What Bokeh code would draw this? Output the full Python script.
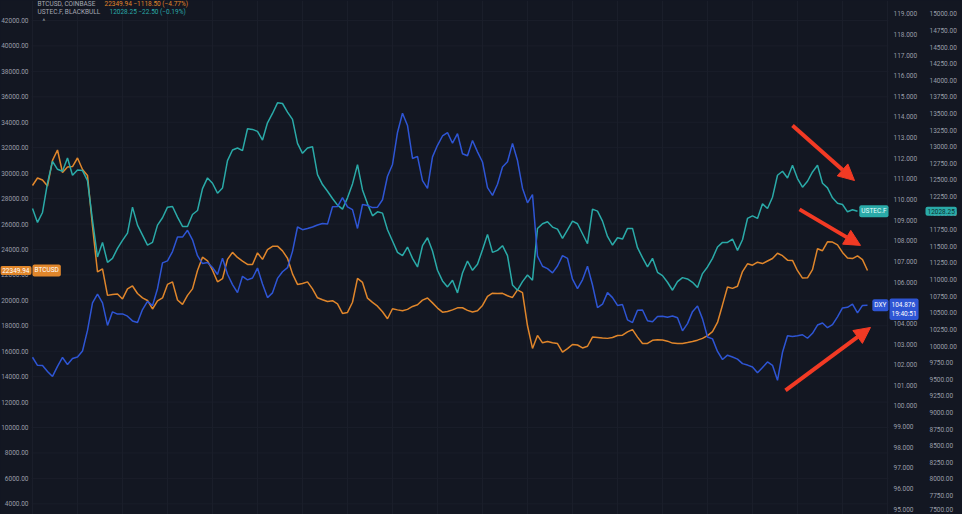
from bokeh.plotting import figure
from bokeh.models import Range1d, Label, Arrow, NormalHead
from bokeh.core.properties import value
from bokeh.embed import file_html
from bokeh.resources import INLINE

# ---------------- data (daily closes) ----------------
btc = [29030, 29620, 29460, 28990, 31000, 31820, 30050, 30490, 30520, 31190,
       30290, 29820, 25810, 22230, 22470, 20390, 20460, 20500, 20110, 20900,
       21130, 20540, 20190, 19990, 19320, 19950, 20190, 21250, 21450, 20030,
       19680, 20390, 20900, 22350, 23390, 23110, 22370, 21460, 21700, 23220,
       23770, 23370, 23080, 22820, 22820, 23730, 23220, 23980, 24250, 24260,
       23890, 23310, 22080, 21250, 21330, 21450, 20900, 20200, 20050, 19910,
       19970, 19720, 18970, 19050, 19850, 21720, 21410, 20170, 19840, 19540,
       19100, 18550, 19340, 19250, 19180, 19290, 19520, 19650, 20020, 20180,
       19800, 19390, 19070, 19120, 19250, 19410, 19420, 19210, 19080, 19180,
       19600, 20320, 20560, 20540, 20550, 20360, 20230, 20820, 20610, 18000,
       16220, 17240, 16660, 16770, 16660, 16600, 15930, 16210, 16530, 16490,
       16260, 16390, 17110, 17070, 17030, 17010, 17080, 17240, 17260, 17520,
       17700, 17110, 16610, 16610, 16860, 16900, 16880, 16790, 16640, 16600,
       16610, 16680, 16760, 16870, 17010, 17230, 17540, 18260, 19640, 21050,
       20940, 21110, 22260, 22870, 22760, 23000, 22890, 23090, 23290, 23700,
       23510, 23160, 23140, 22330, 21750, 21770, 22410, 24060, 23900, 24600,
       24580, 24360, 23770, 23320, 23280, 23500, 23200, 22349.94]

ustec = [12070, 11860, 12010, 12450, 12780, 12660, 12630, 12830, 12570, 12650,
         12640, 12490, 11890, 11340, 11560, 11260, 11320, 11470, 11590, 11700,
         12090, 11820, 11670, 11520, 11560, 11820, 11930, 12090, 12100, 11940,
         11800, 11800, 11980, 12040, 12370, 12530, 12450, 12300, 12380, 12790,
         12950, 12980, 12940, 13270, 13260, 13230, 13100, 13360, 13500, 13660,
         13650, 13520, 13410, 13050, 12900, 12980, 13000, 12580, 12430, 12330,
         12220, 12120, 12060, 12230, 12440, 12730, 12350, 12140, 11960, 12020,
         12000, 11750, 11580, 11410, 11360, 11490, 11320, 11190, 11510, 11630,
         11430, 11140, 10980, 10890, 10990, 10800, 11100, 11280, 11140, 11230,
         11450, 11680, 11410, 11440, 11510, 11360, 10920, 10840, 10970, 11070,
         10990, 11770, 11840, 11870, 11790, 11760, 11620, 11750, 11880, 11840,
         11690, 11540, 12060, 12030, 11880, 11650, 11520, 11630, 11610, 11770,
         11770, 11480, 11330, 11190, 11320, 11110, 11060, 10960, 10840, 10970,
         11030, 11010, 10960, 10880, 11090, 11190, 11320, 11490, 11560, 11560,
         11610, 11440, 11600, 11920, 11960, 11920, 12140, 12070, 12240, 12570,
         12630, 12530, 12720, 12520, 12390, 12480, 12620, 12720, 12450, 12380,
         12230, 12150, 12130, 12020, 12050, 12028.25]

dxy = [102.36, 101.97, 101.96, 101.67, 101.43, 101.92, 102.35, 102.01, 102.30, 102.37,
       102.66, 103.66, 104.99, 105.42, 104.99, 103.90, 104.56, 104.45, 104.46, 104.35,
       104.12, 104.04, 104.67, 105.07, 104.86, 105.68, 106.93, 107.03, 107.48, 108.18,
       108.18, 108.51, 108.05, 107.28, 106.90, 106.95, 106.71, 106.37, 107.16, 106.38,
       105.88, 105.49, 106.28, 106.11, 106.20, 106.68, 105.91, 105.25, 105.48, 106.18,
       106.50, 106.70, 107.49, 108.67, 108.54, 108.60, 108.67, 108.77, 108.84, 108.81,
       109.65, 109.66, 110.09, 109.65, 109.51, 108.60, 109.76, 109.71, 109.61, 109.63,
       109.99, 111.13, 111.70, 113.25, 114.18, 113.59, 111.99, 112.09, 110.92, 110.54,
       112.07, 112.63, 113.08, 113.24, 112.73, 113.19, 112.22, 112.12, 112.86, 112.31,
       111.82, 110.58, 110.20, 110.74, 111.58, 111.83, 112.72, 111.89, 110.55, 109.84,
       110.24, 107.26, 106.77, 106.65, 106.45, 106.78, 107.28, 107.15, 106.14, 105.68,
       106.11, 106.77, 105.86, 104.76, 104.93, 105.49, 105.25, 104.87, 104.91, 104.17,
       104.04, 104.64, 104.65, 104.13, 104.08, 104.33, 104.35, 104.30, 104.36, 104.27,
       103.64, 103.99, 104.57, 104.84, 104.22, 103.34, 103.25, 102.64, 102.25, 102.46,
       102.37, 102.27, 102.05, 101.98, 101.89, 101.61, 101.86, 102.13, 101.97, 101.24,
       102.60, 103.40, 103.37, 103.40, 103.45, 103.28, 103.52, 103.92, 104.02, 103.79,
       103.94, 104.32, 104.75, 104.78, 104.93, 104.51, 104.87, 104.876]

btc_ticks = list(range(4000, 42001, 2000))
dxy_ticks = list(range(95, 120))
ustec_ticks = list(range(7500, 15001, 250))
day_grid = list(range(0, 172, 9))

btc_last, btc_chg, btc_pct = 22349.94, -1118.50, -4.77
ustec_last, ustec_chg, ustec_pct = 12028.25, -22.50, -0.19
dxy_last, dxy_time = 104.876, "19:40:51"

# red annotation arrows: (day_start, btc_start, day_end, btc_end)
arrow_segments = [(152.0, 33750, 164.4, 29420),
                  (153.4, 27150, 165.6, 24320),
                  (150.6, 12920, 167.6, 17870)]

# ---------------- layout (day index units for x) ----------------
X_LO, X_HI = -6.4, 186.0          # whole canvas
PLOT_L, PLOT_R = -0.2, 171.2      # chart pane between the price scales
BTC_LBL_X = -0.8                  # left scale (right-aligned)
DXY_LBL_X = 172.2                 # first right scale (left-aligned)
UST_LBL_X = 179.4                 # second right scale (left-aligned)
Y_LO, Y_HI = 3164, 43572

BG = "#131722"
ORANGE = "#e0862b"
TEAL = "#2aaaa8"
BLUE = "#2e55d4"
RED = "#f23a24"
TXT = "#9a9ea9"
GRID = "#1a1e2a"
FONT = "Roboto"
FS = "6.5px"

p = figure(width=962, height=514, output_backend="svg", toolbar_location=None,
           x_axis_location=None, y_axis_location=None,
           x_range=Range1d(X_LO, X_HI), y_range=Range1d(Y_LO, Y_HI),
           background_fill_color=BG, border_fill_color=BG, outline_line_color=None,
           min_border=0)
p.extra_y_ranges = {"dxy": Range1d(94.741, 119.644), "ustec": Range1d(7465, 15200)}
p.xgrid.visible = False
p.ygrid.visible = False

# grid
p.segment(x0=[PLOT_L] * len(btc_ticks), x1=[PLOT_R] * len(btc_ticks),
          y0=btc_ticks, y1=btc_ticks, line_color=GRID, line_width=1)
p.segment(x0=day_grid, x1=day_grid, y0=[Y_LO] * len(day_grid),
          y1=[Y_HI] * len(day_grid), line_color=GRID, line_width=1)


# price scales
def scale_text(ticks, x, fmt, align, rng, baseline="middle"):
    p.text(x=[x] * len(ticks), y=ticks, text=[fmt.format(t) for t in ticks],
           text_color=TXT, text_font=value(FONT), text_font_size=value(FS),
           text_align=align, text_baseline=baseline, y_range_name=rng)


scale_text(btc_ticks, BTC_LBL_X, "{:.2f}", "right", "default")
scale_text(dxy_ticks, DXY_LBL_X, "{:.3f}", "left", "dxy")
scale_text(ustec_ticks[1:], UST_LBL_X, "{:.2f}", "left", "ustec")
scale_text(ustec_ticks[:1], UST_LBL_X, "{:.2f}", "left", "ustec", "bottom")

# series
p.line(list(range(len(btc))), btc, line_color=ORANGE, line_width=1.5)
p.line(list(range(len(ustec))), ustec, line_color=TEAL, line_width=1.5,
       y_range_name="ustec")
p.line(list(range(len(dxy))), dxy, line_color=BLUE, line_width=1.5,
       y_range_name="dxy")

# arrows
for xs, ys, xe, ye in arrow_segments:
    p.add_layout(Arrow(end=NormalHead(size=16, fill_color=RED, line_color=RED),
                       x_start=xs, y_start=ys, x_end=xe, y_end=ye,
                       line_color=RED, line_width=4))


# price tags
def tag(text, x, y, rng, color, align, txtcol="#ffffff", yoff=0):
    p.add_layout(Label(x=x, y=y, y_range_name=rng, text=text, text_font=FONT,
                       text_font_size=FS, text_color=txtcol, text_align=align,
                       text_baseline="middle", y_offset=yoff,
                       background_fill_color=color, background_fill_alpha=1.0,
                       padding=2, border_radius=2))


tag(f"{btc_last:.2f}", PLOT_L, btc_last, "default", ORANGE, "right")
tag("BTCUSD", PLOT_L + 0.2, btc_last, "default", ORANGE, "left")
tag("USTEC.F", PLOT_R, ustec_last, "ustec", TEAL, "right", "#e6fffd")
tag(f"{ustec_last:.2f}", 178.6, ustec_last, "ustec", TEAL, "left", "#0f2f2e")
tag("DXY", PLOT_R, dxy_last, "dxy", BLUE, "right")
tag(f"{dxy_last:.3f}\n{dxy_time}", PLOT_R + 0.2, dxy_last, "dxy", BLUE, "left",
    yoff=-4)


# header legend
def head(text, x, y, color):
    p.add_layout(Label(x=x, y=y, text=text, text_font=FONT,
                       text_font_size=FS, text_color=color, text_align="left",
                       text_baseline="middle"))


head("BTCUSD, COINBASE", 1.0, 43336, "#a6a9b2")
head(f"{btc_last:.2f}  \u2212{abs(btc_chg):.2f} (\u2212{abs(btc_pct):.2f}%)", 14.4, 43336, ORANGE)
head("USTEC.F, BLACKBULL", 1.0, 42629, "#a6a9b2")
head(f"{ustec_last:.2f}  \u2212{abs(ustec_chg):.2f} (\u2212{abs(ustec_pct):.2f}%)", 15.4, 42629, TEAL)
head("^", 2.0, 41843, "#a6a9b2")

html = file_html(p, INLINE)
html = html.replace("<head>", "<head><style>body{background:#131722;}</style>", 1)
open("out.html", "w").write(html)
